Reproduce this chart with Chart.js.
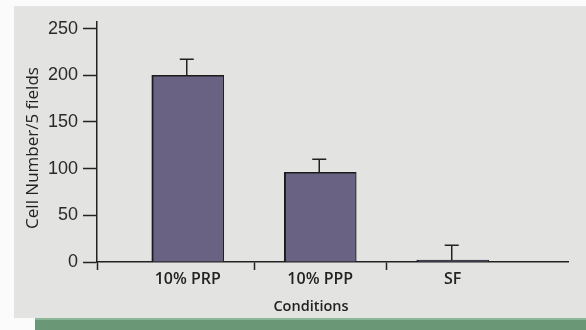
<!DOCTYPE html>
<html>
<head>
<meta charset="utf-8">
<script src="https://cdn.jsdelivr.net/npm/chart.js@4"></script>
<style>
  html, body { margin: 0; padding: 0; background: #fff; }
  #wrap { width: 586px; height: 330px; }
</style>
</head>
<body>
<div id="wrap"><canvas id="chart" width="586" height="330"></canvas></div>
<script>
// Cell counts per 5 fields under each culture condition (mean, upper error)
const categories = ['10% PRP', '10% PPP', 'SF'];
const cellCounts = [200, 96, 2];
const cellErrors = [17, 14, 16];
const yTickValues = [0, 50, 100, 150, 200, 250];
const yTitle = 'Cell Number/5 fields';
const xTitle = 'Conditions';

const INK = '#222222';
const X_MIN = -0.685, X_MAX = 2.87;

// Paper backdrop: grey panel with a green rule along the bottom
const backdrop = {
  id: 'backdrop',
  beforeDraw(chart) {
    const ctx = chart.ctx;
    ctx.save();
    ctx.fillStyle = '#fbfbfb';
    ctx.fillRect(0, 0, chart.width, chart.height);
    ctx.fillStyle = '#e3e3e1';
    ctx.fillRect(14, 6, chart.width - 14, 312);
    ctx.fillStyle = '#6a9776';
    ctx.fillRect(35, 318, chart.width - 35, 12);
    ctx.fillStyle = '#8db698';
    ctx.fillRect(35, 318, chart.width - 35, 2);
    ctx.restore();
  }
};

// Upper error whiskers with caps
const errorBars = {
  id: 'errorBars',
  afterDatasetsDraw(chart) {
    const ctx = chart.ctx;
    const xs = chart.scales.x, ys = chart.scales.y;
    ctx.save();
    ctx.strokeStyle = INK;
    ctx.lineWidth = 1.5;
    cellCounts.forEach((v, i) => {
      const x = xs.getPixelForValue(i) - 1;
      const yBase = ys.getPixelForValue(v);
      const yTop = ys.getPixelForValue(v + cellErrors[i]);
      ctx.beginPath();
      ctx.moveTo(x, yBase);
      ctx.lineTo(x, yTop);
      ctx.moveTo(x - 7, yTop);
      ctx.lineTo(x + 7, yTop);
      ctx.stroke();
    });
    ctx.restore();
  }
};

// Axis titles
const axisTitles = {
  id: 'axisTitles',
  afterDraw(chart) {
    const ctx = chart.ctx;
    ctx.save();
    ctx.fillStyle = INK;
    ctx.textAlign = 'center';
    ctx.textBaseline = 'middle';
    ctx.font = '600 14.5px "Open Sans"';
    ctx.fillText(xTitle, 311, 307);
    ctx.translate(33.5, 148);
    ctx.rotate(-Math.PI / 2);
    ctx.font = '17px "Open Sans"';
    ctx.fillText(yTitle, 0, 0);
    ctx.restore();
  }
};

new Chart(document.getElementById('chart'), {
  type: 'bar',
  data: {
    datasets: [{
      data: cellCounts.map((v, i) => ({ x: i, y: v })),
      backgroundColor: '#6a6282',
      borderColor: '#1c1c1c',
      borderWidth: { left: 2, top: 1.5, right: 1, bottom: 0 },
      borderSkipped: false,
      barThickness: 72
    }]
  },
  options: {
    responsive: false,
    animation: false,
    layout: { padding: { left: 0, right: 18, top: 22, bottom: 0 } },
    plugins: { legend: { display: false }, tooltip: { enabled: false } },
    scales: {
      x: {
        type: 'linear',
        offset: false,
        min: X_MIN,
        max: X_MAX,
        afterBuildTicks(scale) {
          const vals = [X_MIN];
          categories.forEach((c, i) => {
            vals.push(i);
            if (i < categories.length - 1) vals.push(i + 0.5);
          });
          scale.ticks = vals.map(v => ({ value: v }));
        },
        afterFit(scale) { scale.height = 68; },
        grid: {
          offset: false,
          drawOnChartArea: false,
          drawTicks: true,
          tickLength: 8,
          tickWidth: 1.5,
          tickColor: c => (c.tick && Number.isInteger(c.tick.value)) ? 'rgba(0,0,0,0)' : INK
        },
        border: { display: true, color: INK, width: 1.5 },
        ticks: {
          autoSkip: false,
          maxRotation: 0,
          padding: 0,
          color: INK,
          font: { family: 'Open Sans', size: 16, weight: '600' },
          callback: v => Number.isInteger(v) && v >= 0 ? categories[v] : ''
        }
      },
      y: {
        min: 0,
        max: 257,
        afterBuildTicks(scale) {
          scale.ticks = yTickValues.map(v => ({ value: v }));
        },
        afterFit(scale) { scale.width = 97; },
        grid: {
          drawOnChartArea: false,
          drawTicks: true,
          tickLength: 14,
          tickWidth: 1.5,
          tickColor: INK
        },
        border: { display: true, color: INK, width: 1.5 },
        ticks: {
          padding: 5,
          color: '#2a2a2a',
          font: { family: 'Liberation Sans', size: 18 }
        }
      }
    }
  },
  plugins: [backdrop, errorBars, axisTitles]
});
</script>
</body>
</html>
